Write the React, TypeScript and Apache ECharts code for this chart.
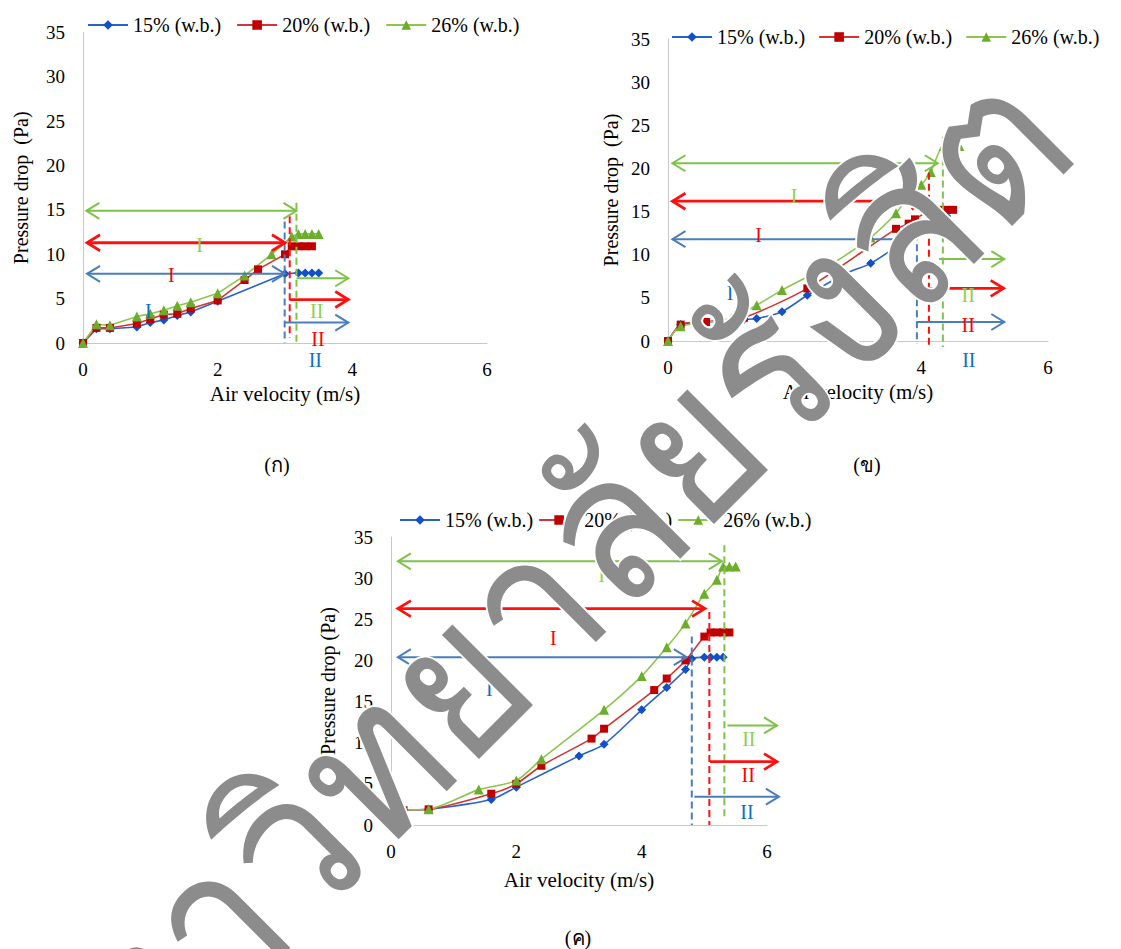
import React, { useEffect, useRef } from "react";
import * as echarts from "echarts";

const seriesNames = ["15% (w.b.)", "20% (w.b.)", "26% (w.b.)"];
const xMin = 0, xMax = 6, xStep = 2;
const yMin = 0, yMax = 35, yStep = 5;

// ---------- chart (ก) ----------
const a15X = [0, 0.2, 0.4, 0.8, 1.0, 1.2, 1.4, 1.6, 2.0, 3.0, 3.2, 3.3, 3.4, 3.5];
const a15Y = [0, 1.6, 1.6, 1.8, 2.3, 2.6, 3.1, 3.5, 4.7, 7.8, 7.9, 7.9, 7.9, 7.9];
const a20X = [0, 0.2, 0.4, 0.8, 1.0, 1.2, 1.4, 1.6, 2.0, 2.4, 2.6, 3.0, 3.1, 3.2, 3.3, 3.4];
const a20Y = [0, 1.7, 1.7, 2.2, 2.7, 3.2, 3.3, 3.9, 4.8, 7.1, 8.3, 10.0, 10.9, 10.9, 10.9, 10.9];
const a26X = [0, 0.2, 0.4, 0.8, 1.0, 1.2, 1.4, 1.6, 2.0, 2.4, 2.8, 3.1, 3.2, 3.3, 3.4, 3.5];
const a26Y = [0, 2.1, 2.0, 3.0, 3.3, 3.7, 4.2, 4.6, 5.6, 7.6, 10.0, 12.0, 12.3, 12.3, 12.3, 12.3];
// annotations, order: 26%, 20%, 15%
const aDouble = [[0.05, 3.17, 14.9], [0.06, 3.0, 11.3], [0.06, 3.0, 7.8]];
const aRight = [[3.17, 3.94, 7.3], [3.07, 3.94, 4.9], [3.0, 3.94, 2.3]];
const aDashed = [[3.17, 15.8, 0], [3.07, 14.3, 0.6], [2.995, 13.7, 0]];
const aLabI = [[1.73, 11.0], [1.31, 7.7], [0.97, 3.6]];
const aLabII = [[3.47, 3.6], [3.49, 0.4], [3.45, -1.9]];

// ---------- chart (ข) ----------
const b15X = [0, 0.2, 0.6, 0.8, 1.2, 1.4, 1.8, 2.2, 2.8, 3.2, 3.6, 3.9, 4.0, 4.2, 4.3, 4.4];
const b15Y = [0, 1.9, 2.2, 2.3, 2.5, 2.6, 3.4, 5.3, 7.8, 9.0, 10.9, 12.5, 13.6, 14.5, 14.5, 14.5];
const b20X = [0, 0.2, 0.6, 0.8, 1.2, 2.2, 3.6, 3.8, 3.9, 4.1, 4.2, 4.3, 4.4, 4.5];
const b20Y = [0, 1.9, 2.2, 2.4, 2.7, 6.1, 13.0, 13.6, 14.1, 15.0, 15.2, 15.2, 15.2, 15.2];
const b26X = [0, 0.2, 1.0, 1.4, 1.8, 2.6, 3.2, 3.6, 3.8, 4.0, 4.15, 4.35, 4.5, 4.6];
const b26Y = [0, 1.7, 2.6, 4.15, 5.9, 9.0, 12.0, 14.8, 16.8, 18.1, 19.6, 22.6, 22.6, 22.6];
const bDouble = [[0.07, 4.26, 20.6], [0.07, 4.05, 16.2], [0.07, 3.88, 11.8]];
const bRight = [[4.28, 5.31, 9.5], [4.12, 5.3, 6.1], [3.93, 5.31, 2.2]];
const bDashed = [[4.34, 23.7, -0.7], [4.12, 19.5, -0.5], [3.93, 12.5, -0.3]];
const bLabI = [[1.99, 16.8], [1.43, 12.3], [0.98, 5.6]];
const bLabII = [[4.74, 5.3], [4.74, 1.9], [4.75, -2.2]];

// ---------- chart (ค) ----------
const c15X = [0, 0.2, 0.6, 1.6, 2.0, 3.0, 3.4, 4.0, 4.4, 4.7, 4.8, 5.0, 5.1, 5.2, 5.3];
const c15Y = [0, 1.8, 1.9, 3.1, 4.6, 8.4, 9.8, 14.0, 16.7, 18.9, 20.2, 20.4, 20.4, 20.4, 20.4];
const c20X = [0, 0.2, 0.6, 1.6, 2.0, 2.4, 3.2, 3.4, 4.2, 4.4, 4.7, 5.0, 5.1, 5.2, 5.3, 5.4];
const c20Y = [0, 1.8, 1.9, 3.8, 5.0, 7.2, 10.5, 11.7, 16.4, 17.8, 20.0, 22.9, 23.4, 23.4, 23.4, 23.4];
const c26X = [0, 0.2, 0.6, 1.4, 2.0, 2.4, 3.4, 4.0, 4.4, 4.7, 5.0, 5.2, 5.3, 5.4, 5.5];
const c26Y = [0, 1.8, 1.9, 4.3, 5.4, 8.0, 14.0, 18.1, 21.6, 24.5, 28.1, 29.8, 31.4, 31.4, 31.4];
const cDouble = [[0.11, 5.28, 32.05], [0.11, 5.01, 26.3], [0.11, 4.72, 20.4]];
const cRight = [[5.37, 6.16, 12.1], [5.09, 6.16, 7.7], [4.84, 6.19, 3.44]];
const cDashed = [[5.32, 34.0, 0.8], [5.08, 25.9, 0], [4.8, 22.9, 0]];
const cLabI = [[3.36, 30.4], [2.59, 22.7], [1.57, 16.5]];
const cLabII = [[5.71, 10.4], [5.7, 6.07], [5.68, 1.54]];

const captions = ["(ก)", "(ข)", "(ค)"];
const watermarkText = "มหาวิทยาลัยรังสิต";

// ---------- styles ----------
const SERIF = "Liberation Serif";
const lineColors = ["#2a62c6", "#d23535", "#8cc64e"];
const markerColors = ["#1050c8", "#c00000", "#6cae2c"];
const markerShapes = ["diamond", "rect", "triangle"];
const markerSizes = [9, 8, 10];
const annoColors = ["#7ec24a", "#ff1010", "#4a7ebb"]; // 26, 20, 15
const labColors = ["#8fcf4f", "#ff0000", "#0a6fc4"];

const grids = [
  { left: 83, top: 32.5, width: 404, height: 310.5 },
  { left: 668, top: 39, width: 380, height: 302 },
  { left: 391, top: 537, width: 376, height: 288 },
];
const legendPos = [
  { left: 82, top: 10, gap: 15 },
  { left: 666, top: 22, gap: 13 },
  { left: 394, top: 505, gap: 5 },
];
const yNameGap = [52, 47, 53];
const yNames = ["Pressure drop  (Pa)", "Pressure drop  (Pa)", "Pressure drop (Pa)"];
const captionPos = [[277, 465], [867, 465], [578, 938]];

const chartData = [
  { s: [[a15X, a15Y], [a20X, a20Y], [a26X, a26Y]], dbl: aDouble, rgt: aRight, dash: aDashed, li: aLabI, lii: aLabII, smooth: 0 },
  { s: [[b15X, b15Y], [b20X, b20Y], [b26X, b26Y]], dbl: bDouble, rgt: bRight, dash: bDashed, li: bLabI, lii: bLabII, smooth: 0.25 },
  { s: [[c15X, c15Y], [c20X, c20Y], [c26X, c26Y]], dbl: cDouble, rgt: cRight, dash: cDashed, li: cLabI, lii: cLabII, smooth: 0.25 },
];

function zip(xs: number[], ys: number[]) {
  return xs.map((x, i) => [x, ys[i]]);
}

function arrowSeries(g: number, data: number[][], double: boolean) {
  return {
    type: "custom",
    xAxisIndex: g,
    yAxisIndex: g,
    silent: true,
    z: 4,
    clip: false,
    data: data.map((d, i) => [d[0], d[2], d[1], i]),
    renderItem: (params: any, api: any) => {
      const y = api.value(1);
      const p1 = api.coord([api.value(0), y]);
      const p2 = api.coord([api.value(2), y]);
      const i = api.value(3);
      const color = annoColors[i];
      const lw = i === 1 ? 2.8 : 2;
      const L = 13, H = 8;
      const st = { stroke: color, lineWidth: lw, fill: "none" };
      const children: any[] = [
        { type: "line", shape: { x1: p1[0], y1: p1[1], x2: p2[0], y2: p2[1] }, style: st },
        {
          type: "polyline",
          shape: { points: [[p2[0] - L, p2[1] - H], [p2[0], p2[1]], [p2[0] - L, p2[1] + H]] },
          style: st,
        },
      ];
      if (double) {
        children.push({
          type: "polyline",
          shape: { points: [[p1[0] + L, p1[1] - H], [p1[0], p1[1]], [p1[0] + L, p1[1] + H]] },
          style: st,
        });
      }
      return { type: "group", children };
    },
  };
}

function dashSeries(g: number, data: number[][]) {
  return {
    type: "custom",
    xAxisIndex: g,
    yAxisIndex: g,
    silent: true,
    z: 3,
    clip: false,
    data: data.map((d, i) => [d[0], d[1], d[2], i]),
    renderItem: (params: any, api: any) => {
      const p1 = api.coord([api.value(0), api.value(1)]);
      const p2 = api.coord([api.value(0), api.value(2)]);
      const i = api.value(3);
      return {
        type: "line",
        shape: { x1: p1[0], y1: p1[1], x2: p2[0], y2: p2[1] },
        style: { stroke: annoColors[i], lineWidth: 2, lineDash: [7, 4] },
      };
    },
  };
}

function labelSeries(g: number, data: number[][], text: string) {
  return {
    type: "custom",
    xAxisIndex: g,
    yAxisIndex: g,
    silent: true,
    z: 4,
    clip: false,
    data: data.map((d, i) => [d[0], d[1], i]),
    renderItem: (params: any, api: any) => {
      const p = api.coord([api.value(0), api.value(1)]);
      const i = api.value(2);
      return {
        type: "text",
        x: p[0],
        y: p[1],
        style: {
          text,
          fill: labColors[i],
          fontSize: 20,
          fontFamily: SERIF,
          align: "center",
          verticalAlign: "middle",
        },
      };
    },
  };
}

export default function App() {
  const ref = useRef<HTMLDivElement>(null);
  useEffect(() => {
    if (!ref.current) return;
    const chart = echarts.init(ref.current, undefined, { renderer: "svg" });
    const series: any[] = [];
    chartData.forEach((cd, g) => {
      cd.s.forEach((xy, k) => {
        series.push({
          type: "line",
          name: seriesNames[k],
          xAxisIndex: g,
          yAxisIndex: g,
          data: zip(xy[0], xy[1]),
          smooth: cd.smooth,
          symbol: markerShapes[k],
          symbolSize: markerSizes[k],
          showAllSymbol: true,
          lineStyle: { color: lineColors[k], width: 1.6 },
          itemStyle: { color: markerColors[k] },
          z: 2,
        });
      });
      series.push(arrowSeries(g, cd.dbl, true));
      series.push(arrowSeries(g, cd.rgt, false));
      series.push(dashSeries(g, cd.dash));
      series.push(labelSeries(g, cd.li, "I"));
      series.push(labelSeries(g, cd.lii, "II"));
    });

    const option: any = {
      animation: false,
      backgroundColor: "#ffffff",
      grid: grids.map((g) => ({ ...g, containLabel: false })),
      legend: legendPos.map((lp) => ({
        left: lp.left,
        top: lp.top,
        itemGap: lp.gap,
        itemWidth: 40,
        itemHeight: 12,
        data: seriesNames,
        selectedMode: false,
        textStyle: { fontFamily: SERIF, fontSize: 20, color: "#000" },
      })),
      xAxis: grids.map((_, g) => ({
        type: "value",
        gridIndex: g,
        min: xMin,
        max: xMax,
        interval: xStep,
        name: "Air velocity (m/s)",
        nameLocation: "middle",
        nameGap: g === 2 ? 44 : 40,
        nameTextStyle: { fontFamily: SERIF, fontSize: 21, color: "#000" },
        axisLine: { show: true, lineStyle: { color: "#c8c8c8", width: 1 } },
        axisTick: { show: false },
        splitLine: { show: false },
        axisLabel: { fontFamily: SERIF, fontSize: 19, color: "#000", margin: 17 },
      })),
      yAxis: grids.map((_, g) => ({
        type: "value",
        gridIndex: g,
        min: yMin,
        max: yMax,
        interval: yStep,
        name: yNames[g],
        nameLocation: "middle",
        nameGap: yNameGap[g],
        nameTextStyle: { fontFamily: SERIF, fontSize: 20, color: "#000" },
        axisLine: { show: true, lineStyle: { color: "#c8c8c8", width: 1 } },
        axisTick: { show: false },
        splitLine: { show: false },
        axisLabel: { fontFamily: SERIF, fontSize: 19, color: "#000", margin: 18 },
      })),
      graphic: [
        ...captions.map((c, i) => ({
          type: "text",
          x: captionPos[i][0],
          y: captionPos[i][1],
          z: 10,
          style: {
            text: c,
            fontSize: 20,
            fontFamily: SERIF,
            fill: "#000",
            align: "center",
            verticalAlign: "middle",
          },
        })),
        {
          type: "text",
          x: 518,
          y: 620,
          rotation: Math.PI / 4,
          scaleX: 0.92,
          z: 100,
          silent: true,
          style: {
            text: watermarkText,
            fontSize: 205,
            fontWeight: "normal",
            fill: "#8c8c8c",
            stroke: "#ffffff",
            lineWidth: 4,
            align: "center",
            verticalAlign: "middle",
          },
        },
      ],
      series,
    };
    chart.setOption(option);
    return () => chart.dispose();
  }, []);
  return (
    <div
      ref={ref}
      style={{ position: "fixed", left: 0, top: 0, width: 1121, height: 949 }}
    />
  );
}
